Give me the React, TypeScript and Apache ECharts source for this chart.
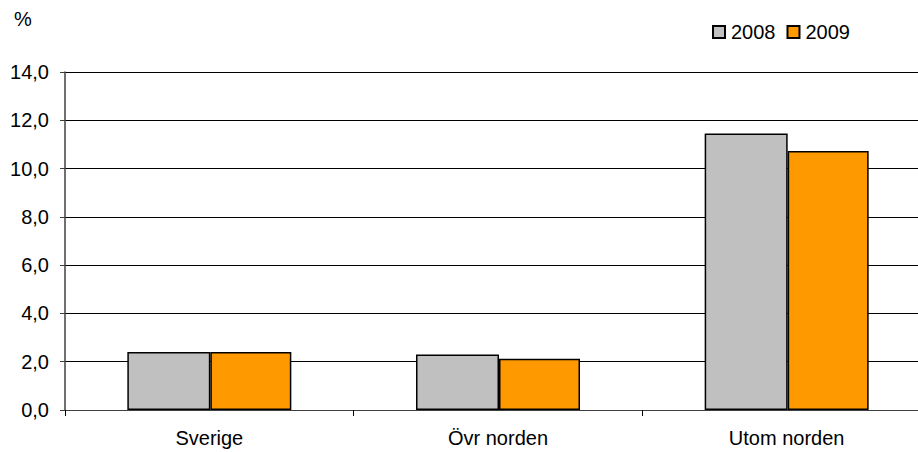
import React, { useEffect, useRef } from "react";
import * as echarts from "echarts";

const categories = ["Sverige", "Övr norden", "Utom norden"];
const series2008 = [2.4, 2.3, 11.45];
const series2009 = [2.4, 2.12, 10.73];
const seriesNames = ["2008", "2009"];

export default function App() {
  const ref = useRef<HTMLDivElement>(null);
  useEffect(() => {
    const chart = echarts.init(ref.current!, null, { renderer: "svg" });
    const font = "'Liberation Sans', Arial, sans-serif";
    chart.setOption({
      animation: false,
      textStyle: { fontFamily: font },
      legend: {
        data: seriesNames,
        top: 17,
        left: 707,
        itemWidth: 12,
        itemHeight: 12,
        itemGap: 11,
        textStyle: { fontSize: 20, color: "#000", fontFamily: font, padding: [0, 0, 0, 1] },
        icon: "rect",
      },
      graphic: [
        {
          type: "text",
          left: 14,
          top: 9,
          style: { text: "%", fontSize: 20, fill: "#000", fontFamily: font },
        },
      ],
      grid: { left: 65, top: 72, width: 866, height: 338, containLabel: false, outerBoundsMode: "none" },
      xAxis: {
        type: "category",
        data: categories,
        axisLine: { lineStyle: { color: "#404040", width: 1 } },
        axisTick: { show: true, alignWithLabel: false, length: 6, lineStyle: { color: "#000" } },
        axisLabel: { fontSize: 20, color: "#000", margin: 18, fontFamily: font },
      },
      yAxis: {
        type: "value",
        min: 0,
        max: 14,
        interval: 2,
        axisLine: { show: true, lineStyle: { color: "#404040", width: 1.5 } },
        axisTick: { show: true, length: 5, lineStyle: { color: "#404040" } },
        axisLabel: {
          fontSize: 20,
          color: "#000",
          margin: 16,
          fontFamily: font,
          formatter: (v: number) => v.toFixed(1).replace(".", ","),
        },
        splitLine: { lineStyle: { color: "#000", width: 1 } },
      },
      series: [
        {
          name: seriesNames[0],
          type: "bar",
          data: series2008,
          barWidth: 83,
          barGap: "0%",
          itemStyle: { color: "#C0C0C0", borderColor: "#000", borderWidth: 1.5 },
        },
        {
          name: seriesNames[1],
          type: "bar",
          data: series2009,
          barWidth: 81,
          barGap: "0%",
          itemStyle: { color: "#FF9900", borderColor: "#000", borderWidth: 1.5 },
        },
      ],
    });
    return () => chart.dispose();
  }, []);
  return <div ref={ref} style={{ width: 918, height: 452, position: "absolute", left: 0, top: 0 }} />;
}
